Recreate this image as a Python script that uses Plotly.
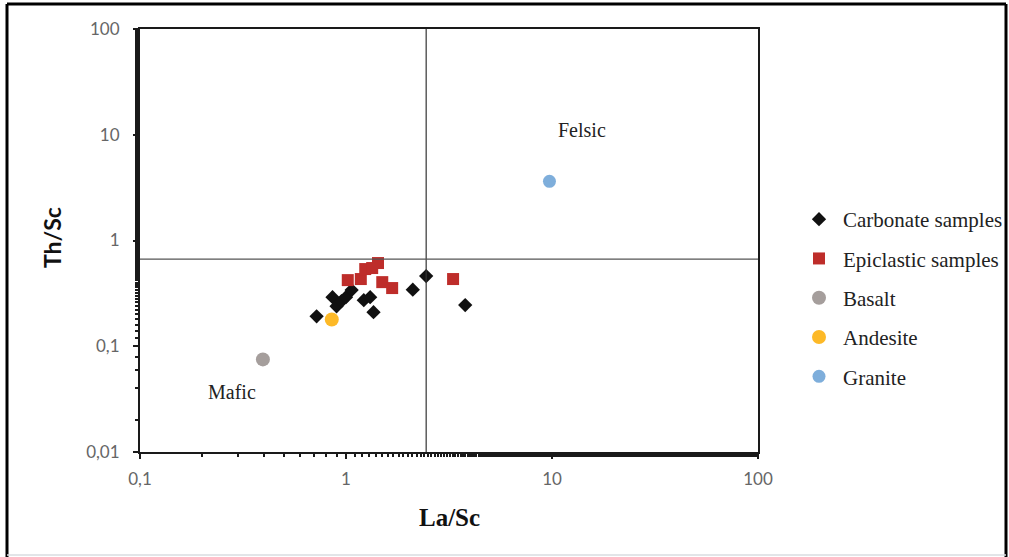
import plotly.graph_objects as go

# Data (La/Sc, Th/Sc)
carb_x = [0.72, 0.86, 0.90, 0.95, 1.00, 1.065, 1.22, 1.31, 1.36, 2.11, 2.45, 3.79]
carb_y = [0.192, 0.291, 0.239, 0.267, 0.291, 0.340, 0.273, 0.291, 0.210, 0.343, 0.461, 0.245]
epi_x = [1.02, 1.18, 1.24, 1.34, 1.43, 1.50, 1.675, 3.31]
epi_y = [0.422, 0.432, 0.537, 0.549, 0.612, 0.404, 0.355, 0.432]
basalt_x = [0.395]
basalt_y = [0.0751]
andesite_x = [0.853]
andesite_y = [0.179]
granite_x = [9.72]
granite_y = [3.63]
div_x = 2.45
div_y = 0.668
tick_x_vals = [0.1, 1, 10, 100]
tick_x_text = ["0,1", "1", "10", "100"]
tick_y_vals = [0.01, 0.1, 1, 10, 100]
tick_y_text = ["0,01", "0,1", "1", "10", "100"]

W, H = 1009, 557
L, R, T, B = 140, 251, 29, 105
pw, ph = W - L - R, H - T - B

def px(x):
    return (x - L) / pw

def py(y):
    return (H - B - y) / ph

serif = "Liberation Serif, Times New Roman, serif"
sans = "Lato, Open Sans, Liberation Sans, sans-serif"

fig = go.Figure()
fig.add_trace(go.Scatter(x=carb_x, y=carb_y, mode="markers", name="Carbonate samples",
                         legendgroup="a",
                         marker=dict(symbol="diamond", size=11, color="#111111")))
fig.add_trace(go.Scatter(x=epi_x, y=epi_y, mode="markers", name="Epiclastic samples",
                         legendgroup="b",
                         marker=dict(symbol="square", size=12, color="#BE2D2A")))
fig.add_trace(go.Scatter(x=basalt_x, y=basalt_y, mode="markers", name="Basalt",
                         legendgroup="c",
                         marker=dict(symbol="circle", size=14, color="#A59E9C")))
fig.add_trace(go.Scatter(x=andesite_x, y=andesite_y, mode="markers", name="Andesite",
                         legendgroup="d",
                         marker=dict(symbol="circle", size=14, color="#FDB927")))
fig.add_trace(go.Scatter(x=granite_x, y=granite_y, mode="markers", name="Granite",
                         legendgroup="e",
                         marker=dict(symbol="circle", size=13, color="#7EAEDB")))

# divider lines
fig.add_shape(type="line", xref="x", yref="paper", x0=div_x, x1=div_x, y0=0, y1=1,
              line=dict(color="#333333", width=1.2))
fig.add_shape(type="line", xref="paper", yref="y", x0=0, x1=1, y0=div_y, y1=div_y,
              line=dict(color="#555555", width=1.2))

# outer frame
fig.add_shape(type="line", xref="paper", yref="paper", x0=px(7), x1=px(7), y0=py(4), y1=py(560),
              line=dict(color="black", width=3))
fig.add_shape(type="line", xref="paper", yref="paper", x0=px(7), x1=px(1006), y0=py(4), y1=py(4),
              line=dict(color="black", width=3))
fig.add_shape(type="line", xref="paper", yref="paper", x0=px(1006), x1=px(1006), y0=py(4), y1=py(560),
              line=dict(color="black", width=3))
fig.add_shape(type="line", xref="paper", yref="paper", x0=px(7), x1=px(1006), y0=py(555), y1=py(555),
              line=dict(color="#D8DCE0", width=1.5))

ann = dict(xref="paper", yref="paper", showarrow=False, xanchor="center", yanchor="middle")
fig.add_annotation(x=px(582), y=py(130), text="Felsic",
                   font=dict(family=serif, size=20, color="#222222"), **ann)
fig.add_annotation(x=px(232), y=py(392), text="Mafic",
                   font=dict(family=serif, size=20, color="#222222"), **ann)

# axis titles
fig.add_annotation(x=px(449), y=py(517), text="<b>La/Sc</b>",
                   font=dict(family=serif, size=25, color="#111111"), **ann)
fig.add_annotation(x=px(52), y=py(238), text="<b>Th/Sc</b>", textangle=-90,
                   font=dict(family=sans, size=23, color="#111111"), **ann)

axis_common = dict(type="log", showgrid=False, zeroline=False, showline=True,
                   linecolor="#1a1a1a", linewidth=2, mirror=True,
                   ticks="outside", ticklen=5, tickwidth=2, tickcolor="#1a1a1a",
                   tickfont=dict(family=sans, size=17, color="#666666"),
                   minor=dict(ticks="outside", ticklen=3, tickwidth=1.5, tickcolor="#1a1a1a", showgrid=False))

fig.update_xaxes(range=[-1, 2], tickvals=tick_x_vals, ticktext=tick_x_text,
                 ticklabelstandoff=6, **axis_common)
fig.update_yaxes(range=[-2, 2], tickvals=tick_y_vals, ticktext=tick_y_text,
                 ticklabelstandoff=10, **axis_common)

fig.update_layout(
    width=W, height=H,
    margin=dict(l=L, r=R, t=T, b=B, autoexpand=False),
    paper_bgcolor="white", plot_bgcolor="white",
    showlegend=True,
    legend=dict(x=px(795), y=py(199), xanchor="left", yanchor="top",
                font=dict(family=serif, size=21, color="#222222"),
                tracegroupgap=9, bgcolor="rgba(0,0,0,0)", itemwidth=38),
)

fig.write_html("out.html")
